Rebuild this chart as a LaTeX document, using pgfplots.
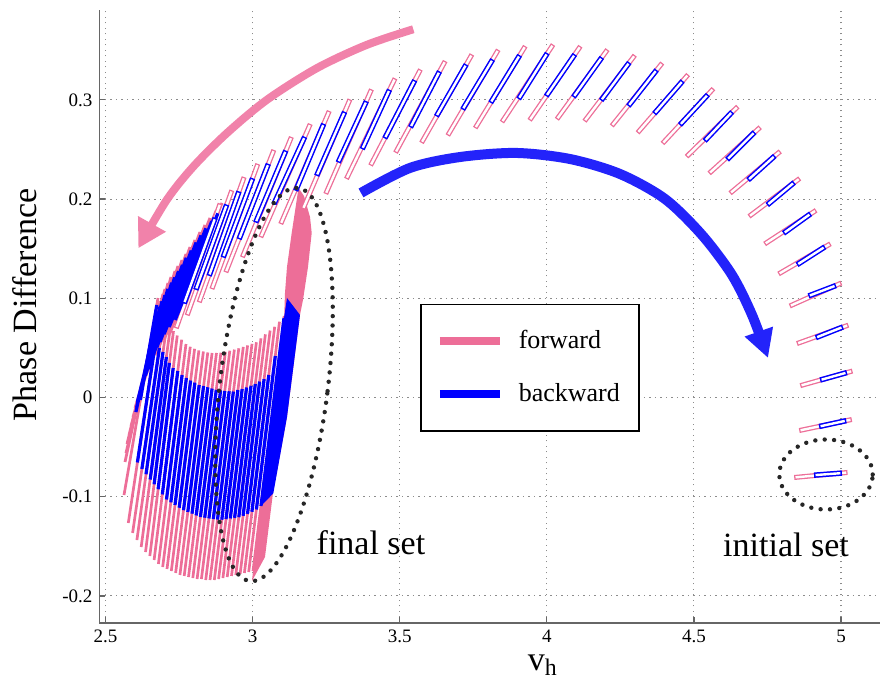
\documentclass[border=0pt]{standalone}
\usepackage{pgfplots}
\pgfplotsset{compat=1.18}
\usepackage{fontspec}
\setmainfont{Liberation Serif}
\usetikzlibrary{arrows.meta,shapes.geometric}
\definecolor{pinkc}{RGB}{237,110,152}
\definecolor{pinkarrow}{RGB}{241,130,170}
\definecolor{bluec}{RGB}{0,0,255}
\definecolor{bluearrow}{RGB}{35,35,250}
\begin{document}
\begin{tikzpicture}
\begin{axis}[
  scale only axis, width=390.25pt, height=306.5pt,
  xmin=2.4796, xmax=5.1325, ymin=-0.2273, ymax=0.3906,
  axis x line*=bottom, axis y line*=left,
  x axis line style={-}, y axis line style={-},
  axis line style={draw=black!60, line width=0.7pt},
  xtick={2.5,3,3.5,4,4.5,5}, xticklabels={2.5,3,3.5,4,4.5,5},
  ytick={-0.2,-0.1,0,0.1,0.2,0.3}, yticklabels={-0.2,-0.1,0,0.1,0.2,0.3},
  tick align=inside, major tick length=3pt,
  tick style={draw=black!60, line width=0.6pt},
  ticklabel style={font=\fontsize{9.5}{11}\selectfont},
  grid=major, grid style={draw=black!45, line width=0.55pt, dash pattern=on 0.55pt off 2.2pt},
  xlabel={v\textsubscript{h}}, ylabel={Phase Difference},
  label style={font=\fontsize{17}{20}\selectfont},
  xlabel style={at={(axis description cs:0.568,-0.0685)}, anchor=center},
  ylabel style={at={(axis description cs:-0.0955,0.519)}, anchor=center},
  unbounded coords=jump,
  legend style={at={(0.4106,0.5210)}, anchor=north west, draw=black, line width=0.8pt,
    fill=white, font=\fontsize{13}{15}\selectfont, inner xsep=7.5pt, inner ysep=11pt,
    row sep=12pt, column sep=5.5pt},
  legend cell align=left,
  legend image code/.code={\draw[#1, line width=4pt, line cap=butt] (0pt,0pt) -- (30pt,0pt);},
]
% ---------- forward (pink) ----------
\addplot[pinkc, fill=pinkc, draw=none, forget plot] coordinates {
(3.0014,-0.1749) (3.1074,0.0822) (3.1101,0.1053) (3.1169,0.1316) (3.1329,0.1658)
(3.1499,0.1991) (3.1560,0.2112) (3.1747,0.2031) (3.1951,0.1820) (3.2009,0.1658)
(3.1883,0.1316) (3.1713,0.0983) (3.1611,0.0832) (3.1169,-0.0197) (3.0693,-0.0963)
(3.0421,-0.1608) (2.9980,-0.1850)} -- cycle;
\addplot[pinkc, line width=1.35pt, line cap=butt, forget plot] coordinates {
(2.5629,-0.0983) (2.6784,0.1003) (nan,nan)
(2.5775,-0.1265) (2.6886,0.0922) (nan,nan)
(2.5921,-0.1366) (2.7005,0.0852) (nan,nan)
(2.6067,-0.1437) (2.7107,0.0781) (nan,nan)
(2.6213,-0.1507) (2.7209,0.0721) (nan,nan)
(2.6360,-0.1558) (2.7311,0.0670) (nan,nan)
(2.6506,-0.1598) (2.7440,0.0625) (nan,nan)
(2.6652,-0.1638) (2.7590,0.0583) (nan,nan)
(2.6798,-0.1678) (2.7736,0.0539) (nan,nan)
(2.6944,-0.1709) (2.7882,0.0512) (nan,nan)
(2.7090,-0.1729) (2.8029,0.0491) (nan,nan)
(2.7237,-0.1749) (2.8175,0.0475) (nan,nan)
(2.7383,-0.1769) (2.8328,0.0464) (nan,nan)
(2.7529,-0.1789) (2.8477,0.0454) (nan,nan)
(2.7675,-0.1799) (2.8623,0.0449) (nan,nan)
(2.7821,-0.1810) (2.8773,0.0449) (nan,nan)
(2.7967,-0.1820) (2.8922,0.0451) (nan,nan)
(2.8113,-0.1830) (2.9075,0.0461) (nan,nan)
(2.8260,-0.1830) (2.9225,0.0472) (nan,nan)
(2.8406,-0.1840) (2.9381,0.0483) (nan,nan)
(2.8552,-0.1840) (2.9531,0.0496) (nan,nan)
(2.8698,-0.1840) (2.9684,0.0510) (nan,nan)
(2.8844,-0.1830) (2.9830,0.0525) (nan,nan)
(2.8990,-0.1820) (2.9980,0.0541) (nan,nan)
(2.9137,-0.1810) (3.0129,0.0557) (nan,nan)
(2.9283,-0.1799) (3.0285,0.0596) (nan,nan)
(2.9429,-0.1789) (3.0435,0.0637) (nan,nan)
(2.9575,-0.1779) (3.0595,0.0675) (nan,nan)
(2.9721,-0.1769) (3.0751,0.0713) (nan,nan)
(2.9867,-0.1759) (3.0914,0.0764) (nan,nan)
(3.0014,-0.1749) (3.1074,0.0822)};
% dense diagonal boxes at the left edge (forward part)
\addplot[pinkc, line width=1.4pt, line cap=butt, forget plot] coordinates {
(2.7192,0.0650) (2.8960,0.1961) (nan,nan)
(2.6988,0.0580) (2.8756,0.1880) (nan,nan)
(2.6818,0.0509) (2.8552,0.1810) (nan,nan)
(2.6683,0.0428) (2.8382,0.1739) (nan,nan)
(2.6547,0.0348) (2.8212,0.1668) (nan,nan)
(2.6411,0.0257) (2.8042,0.1588) (nan,nan)
(2.6309,0.0166) (2.7872,0.1517) (nan,nan)
(2.6207,0.0076) (2.7736,0.1447) (nan,nan)
(2.6105,-0.0015) (2.7600,0.1386) (nan,nan)
(2.6003,-0.0106) (2.7464,0.1326) (nan,nan)
(2.5935,-0.0197) (2.7362,0.1275) (nan,nan)
(2.5867,-0.0287) (2.7226,0.1215) (nan,nan)
(2.5799,-0.0378) (2.7124,0.1154) (nan,nan)
(2.5731,-0.0469) (2.7022,0.1094) (nan,nan)
(2.5697,-0.0560) (2.6954,0.1043) (nan,nan)
(2.5663,-0.0650) (2.6852,0.0973)};
\addplot[pinkc, double=white, double distance=1.2pt, line width=0.65pt, line cap=rect, forget plot] coordinates {
(4.8494,-0.0804) (5.0136,-0.0758) (nan,nan)
(4.8664,-0.0328) (5.0282,-0.0227) (nan,nan)
(4.8698,0.0126) (5.0306,0.0260) (nan,nan)
(4.8582,0.0552) (5.0170,0.0721) (nan,nan)
(4.8334,0.0932) (4.9932,0.1144) (nan,nan)
(4.7950,0.1258) (4.9568,0.1537) (nan,nan)
(4.7474,0.1561) (4.9082,0.1873) (nan,nan)
(4.6941,0.1840) (4.8528,0.2193) (nan,nan)
(4.6295,0.2075) (4.7869,0.2465) (nan,nan)
(4.5581,0.2276) (4.7189,0.2707) (nan,nan)
(4.4809,0.2445) (4.6431,0.2915) (nan,nan)
(4.3990,0.2579) (4.5605,0.3095) (nan,nan)
(4.3140,0.2687) (4.4748,0.3236) (nan,nan)
(4.2260,0.2757) (4.3871,0.3352) (nan,nan)
(4.1332,0.2805) (4.2940,0.3430) (nan,nan)
(4.0391,0.2825) (4.2012,0.3486) (nan,nan)
(3.9463,0.2815) (4.1094,0.3520) (nan,nan)
(3.8521,0.2797) (4.0166,0.3536) (nan,nan)
(3.7610,0.2737) (3.9225,0.3520) (nan,nan)
(3.6676,0.2663) (3.8307,0.3483) (nan,nan)
(3.5782,0.2589) (3.7413,0.3436) (nan,nan)
(3.4898,0.2490) (3.6506,0.3369) (nan,nan)
(3.4048,0.2361) (3.5666,0.3284) (nan,nan)
(3.3226,0.2226) (3.4806,0.3194) (nan,nan)
(3.2519,0.2075) (3.4007,0.3083) (nan,nan)
(3.1747,0.1923) (3.3277,0.2982) (nan,nan)
(3.0989,0.1772) (3.2573,0.2865) (nan,nan)
(3.0309,0.1638) (3.1927,0.2734) (nan,nan)
(2.9684,0.1437) (3.1288,0.2603) (nan,nan)
(2.9120,0.1285) (3.0693,0.2472) (nan,nan)
(2.8644,0.1117) (3.0149,0.2331) (nan,nan)
(2.8212,0.0983) (2.9684,0.2198) (nan,nan)
(2.7804,0.0852) (2.9266,0.2065) (nan,nan)
(2.7430,0.0721) (2.8868,0.1931)};
% ---------- backward (blue) ----------
\addplot[bluec, fill=bluec, draw=none, forget plot] coordinates {
(3.0285,-0.1094) (3.1067,0.0801) (3.1169,0.1003) (3.1611,0.0832) (3.1169,-0.0197) (3.0704,-0.0966)} -- cycle;
\addplot[bluec, line width=1.6pt, line cap=butt, forget plot] coordinates {
(2.6186,-0.0025) (2.6744,0.0932) (nan,nan)
(2.6084,-0.0655) (2.6856,0.0862) (nan,nan)
(2.6237,-0.0721) (2.6832,0.0499) (nan,nan)
(2.6377,-0.0774) (2.6954,0.0459) (nan,nan)
(2.6519,-0.0827) (2.7070,0.0408) (nan,nan)
(2.6652,-0.0875) (2.7172,0.0348) (nan,nan)
(2.6788,-0.0925) (2.7301,0.0297) (nan,nan)
(2.6931,-0.0977) (2.7457,0.0267) (nan,nan)
(2.7073,-0.1028) (2.7604,0.0227) (nan,nan)
(2.7220,-0.1057) (2.7750,0.0197) (nan,nan)
(2.7362,-0.1084) (2.7893,0.0171) (nan,nan)
(2.7505,-0.1111) (2.8039,0.0150) (nan,nan)
(2.7651,-0.1136) (2.8185,0.0126) (nan,nan)
(2.7797,-0.1154) (2.8334,0.0116) (nan,nan)
(2.7940,-0.1171) (2.8477,0.0103) (nan,nan)
(2.8083,-0.1189) (2.8623,0.0090) (nan,nan)
(2.8226,-0.1205) (2.8766,0.0077) (nan,nan)
(2.8372,-0.1212) (2.8912,0.0072) (nan,nan)
(2.8515,-0.1219) (2.9055,0.0066) (nan,nan)
(2.8664,-0.1225) (2.9205,0.0063) (nan,nan)
(2.8807,-0.1231) (2.9347,0.0060) (nan,nan)
(2.8953,-0.1232) (2.9500,0.0076) (nan,nan)
(2.9096,-0.1226) (2.9646,0.0086) (nan,nan)
(2.9242,-0.1219) (2.9796,0.0101) (nan,nan)
(2.9388,-0.1213) (2.9946,0.0118) (nan,nan)
(2.9531,-0.1207) (3.0092,0.0136) (nan,nan)
(2.9677,-0.1193) (3.0238,0.0161) (nan,nan)
(2.9827,-0.1173) (3.0391,0.0186) (nan,nan)
(2.9976,-0.1152) (3.0551,0.0227) (nan,nan)
(3.0129,-0.1129) (3.0772,0.0418) (nan,nan)
(3.0285,-0.1094) (3.1067,0.0801)};
% dense diagonal boxes at the left edge (backward part)
\addplot[bluec, line width=1.6pt, line cap=butt, forget plot] coordinates {
(2.7369,0.0781) (2.8817,0.1856) (nan,nan)
(2.7165,0.0710) (2.8613,0.1776) (nan,nan)
(2.6992,0.0639) (2.8413,0.1706) (nan,nan)
(2.6852,0.0560) (2.8246,0.1634) (nan,nan)
(2.6747,0.0506) (2.8080,0.1563) (nan,nan)
(2.6608,0.0416) (2.7913,0.1481) (nan,nan)
(2.6526,0.0356) (2.7746,0.1409) (nan,nan)
(2.6438,0.0281) (2.7614,0.1337) (nan,nan)
(2.6360,0.0223) (2.7481,0.1274) (nan,nan)
(2.6281,0.0166) (2.7349,0.1211) (nan,nan)
(2.6234,0.0113) (2.7247,0.1157) (nan,nan)
(2.6179,0.0058) (2.7118,0.1095) (nan,nan)
(2.6132,0.0005) (2.7019,0.1031) (nan,nan)
(2.6081,-0.0047) (2.6920,0.0969) (nan,nan)
(2.6060,-0.0095) (2.6852,0.0915) (nan,nan)
(2.6033,-0.0147) (2.6757,0.0843)};
\addplot[bluec, double=white, double distance=1.2pt, line width=0.75pt, line cap=rect, forget plot] coordinates {
(4.9174,-0.0781) (4.9939,-0.0764) (nan,nan)
(4.9344,-0.0287) (5.0088,-0.0239) (nan,nan)
(4.9378,0.0183) (5.0112,0.0244) (nan,nan)
(4.9228,0.0613) (4.9979,0.0701) (nan,nan)
(4.8980,0.1033) (4.9741,0.1119) (nan,nan)
(4.8582,0.1353) (4.9374,0.1504) (nan,nan)
(4.8120,0.1671) (4.8892,0.1836) (nan,nan)
(4.7563,0.1958) (4.8338,0.2150) (nan,nan)
(4.6907,0.2210) (4.7681,0.2417) (nan,nan)
(4.6193,0.2417) (4.6998,0.2655) (nan,nan)
(4.5428,0.2606) (4.6237,0.2859) (nan,nan)
(4.4585,0.2767) (4.5414,0.3033) (nan,nan)
(4.3712,0.2881) (4.4558,0.3170) (nan,nan)
(4.2828,0.2959) (4.3677,0.3280) (nan,nan)
(4.1900,0.3016) (4.2750,0.3355) (nan,nan)
(4.0958,0.3050) (4.1818,0.3406) (nan,nan)
(4.0030,0.3060) (4.0901,0.3436) (nan,nan)
(3.9089,0.3032) (3.9969,0.3448) (nan,nan)
(3.8137,0.2994) (3.9031,0.3427) (nan,nan)
(3.7185,0.2926) (3.8113,0.3384) (nan,nan)
(3.6292,0.2858) (3.7216,0.3334) (nan,nan)
(3.5408,0.2747) (3.6312,0.3263) (nan,nan)
(3.4534,0.2636) (3.5472,0.3174) (nan,nan)
(3.3763,0.2528) (3.4616,0.3078) (nan,nan)
(3.2947,0.2394) (3.3831,0.2962) (nan,nan)
(3.2213,0.2260) (3.3093,0.2855) (nan,nan)
(3.1499,0.2109) (3.2383,0.2734) (nan,nan)
(3.0761,0.1974) (3.1733,0.2603) (nan,nan)
(3.0139,0.1789) (3.1094,0.2464) (nan,nan)
(2.9572,0.1621) (3.0503,0.2330) (nan,nan)
(2.9028,0.1437) (2.9969,0.2185) (nan,nan)
(2.8552,0.1252) (2.9507,0.2052) (nan,nan)
(2.8100,0.1111) (2.9089,0.1919) (nan,nan)
(2.7702,0.0973) (2.8695,0.1785)};
% ---------- arrows ----------
\addplot[pinkarrow, line width=4pt, smooth, -{Triangle[length=14pt,width=15pt]}, forget plot] coordinates {
(3.5462,0.3712) (3.3878,0.3554) (3.2179,0.3319) (3.0479,0.2999) (2.9120,0.2663) (2.7984,0.2327) (2.7080,0.1991) (2.6115,0.1504)};
\addplot[bluearrow, line width=5pt, smooth, -{Triangle[length=14pt,width=14pt]}, forget plot] coordinates {
(3.3684,0.2062) (3.5350,0.2314) (3.7050,0.2424) (3.8953,0.2465) (4.0788,0.2404) (4.2488,0.2253)
(4.4018,0.2001) (4.5275,0.1638) (4.6295,0.1235) (4.6975,0.0832) (4.7519,0.0398)};
% ---------- annotations ----------
\node[draw=black!85, ellipse, minimum width=54pt, minimum height=198pt, inner sep=0pt, rotate=-7,
  line width=2.2pt, line cap=round, dash pattern=on 0pt off 4.7pt] at (axis cs:3.0727,0.0131) {};
\node[draw=black!85, ellipse, minimum width=46.7pt, minimum height=35pt, inner sep=0pt,
  line width=2.2pt, line cap=round, dash pattern=on 0pt off 4.7pt] at (axis cs:4.9490,-0.0776) {};
\node[font=\fontsize{17}{20}\selectfont] at (axis cs:3.4024,-0.1467) {final set};
\node[font=\fontsize{17}{20}\selectfont] at (axis cs:4.8130,-0.1487) {initial set};
\addlegendimage{pinkc}
\addlegendentry{forward}
\addlegendimage{bluec}
\addlegendentry{backward}
\end{axis}
\pgfresetboundingbox
\path[use as bounding box] ([xshift=-49.75pt,yshift=-28pt]current axis.south west) rectangle ([yshift=5pt]current axis.north east);
\end{tikzpicture}
\end{document}
